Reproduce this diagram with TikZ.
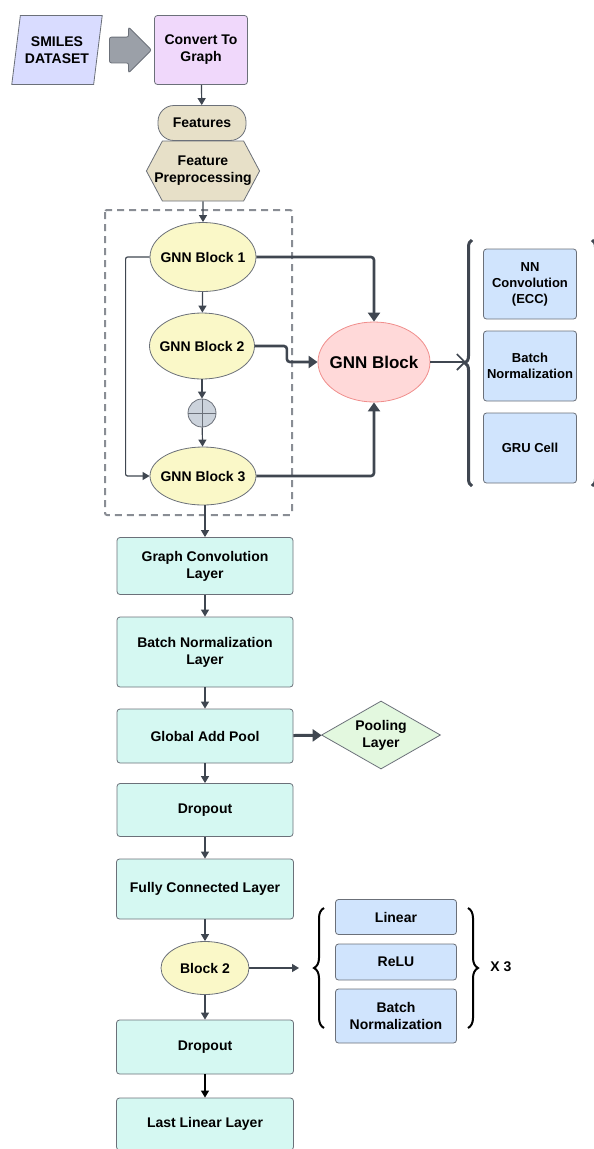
\documentclass[tikz,border=0pt]{standalone}
\usepackage{fontspec}
\setmainfont{Liberation Sans}
\usetikzlibrary{arrows.meta,shapes.geometric,shapes.symbols,shapes.arrows,decorations.pathreplacing}

\definecolor{edgeC}{HTML}{3F4650}
\definecolor{rimC}{HTML}{6B7079}
\definecolor{lavC}{HTML}{D9DCFF}
\definecolor{lilacC}{HTML}{F0D8FB}
\definecolor{sandC}{HTML}{E7E0C8}
\definecolor{lemonC}{HTML}{FAF8C8}
\definecolor{roseC}{HTML}{FFD9D9}
\definecolor{roseRim}{HTML}{F08E8C}
\definecolor{skyC}{HTML}{D0E4FD}
\definecolor{mintC}{HTML}{D5F8F2}
\definecolor{leafC}{HTML}{E3F8DF}
\definecolor{ashC}{HTML}{CCD3DC}
\definecolor{slateC}{HTML}{9BA0A8}

\tikzset{
  txt/.style={font=\fontsize{14}{17}\selectfont\bfseries, align=center, inner sep=1pt},
  base/.style={txt, draw=rimC, line width=0.8pt},
  layer/.style={base, rectangle, rounded corners=3pt, fill=mintC, minimum width=176pt},
  gnn/.style={base, ellipse, fill=lemonC, minimum width=106pt, inner xsep=-8pt, inner ysep=0pt},
  part/.style={base, rectangle, rounded corners=3pt, fill=skyC, minimum width=93pt, minimum height=70pt},
  unit/.style={base, rectangle, rounded corners=3pt, fill=skyC, minimum width=121pt},
  arr/.style={draw=edgeC, line width=1.2pt, -{Triangle[length=7pt,width=8pt]}},
  fatarr/.style={draw=edgeC, line width=2.6pt, -{Triangle[length=9pt,width=12pt]}},
  bigbrace/.style={draw=edgeC, line width=3pt, decorate, decoration={brace, amplitude=7pt}},
  smallbrace/.style={draw=black, line width=2pt, decorate, decoration={brace, amplitude=10pt}}
}

\begin{document}
\begin{tikzpicture}[x=1pt, y=-1pt]
  \useasboundingbox (0,0) rectangle (594,1149);

  % Input and graph conversion
  \node[base, trapezium, trapezium left angle=75, trapezium right angle=105,
        trapezium stretches=true, fill=lavC, minimum width=91pt, minimum height=69pt] (smiles) at (57,50) {SMILES\\DATASET};
  \node[single arrow, draw=rimC, fill=slateC, rounded corners=2pt, line width=0.8pt,
        minimum height=42pt, single arrow head extend=10pt, inner xsep=0pt, inner ysep=12.5pt] (push) at (124,50) {};
  \node[base, rectangle, rounded corners=3pt, fill=lilacC, minimum width=93pt, minimum height=69pt] (conv) at (201,50) {Convert To\\Graph};

  % Features
  \node[base, rectangle, rounded corners=16pt, fill=sandC, minimum width=88pt, minimum height=35pt] (feat) at (202,123) {Features};
  \node[base, signal, signal to=east and west, signal pointer angle=124, fill=sandC,
        inner xsep=-8pt, minimum height=60pt] (prep) at (203,171) {Feature\\Preprocessing};

  % GNN stack (dashed frame)
  \draw[rimC!80, dashed, line width=2pt, dash pattern=on 7pt off 5pt, rounded corners=2pt] (105,210) rectangle (292,515);
  \node[gnn, minimum height=69pt] (gnn1) at (203,257) {GNN Block 1};
  \node[gnn, minimum height=66pt, minimum width=105pt] (gnn2) at (202,346) {GNN Block 2};
  \node[draw=rimC, fill=ashC, circle, minimum size=28pt, inner sep=0pt, line width=0.8pt] (plus) at (202,413) {};
  \draw[rimC, line width=0.8pt] (plus.north) -- (plus.south) (plus.west) -- (plus.east);
  \node[gnn, minimum height=58pt] (gnn3) at (203,476) {GNN Block 3};

  % GNN block and its parts
  \node[base, ellipse, fill=roseC, draw=roseRim, minimum width=112pt, minimum height=80pt,
        inner xsep=-10pt, inner ysep=0pt, font=\fontsize{17}{20}\selectfont\bfseries] (gblock) at (374,362) {GNN Block};
  \node[part, font=\fontsize{13}{16}\selectfont\bfseries] (ecc) at (530,284) {NN\\Convolution\\(ECC)};
  \node[part, font=\fontsize{13}{16}\selectfont\bfseries] (gbn) at (530,366) {Batch\\Normalization};
  \node[part, font=\fontsize{13}{16}\selectfont\bfseries] (gru) at (530,448) {GRU Cell};
  \draw[bigbrace] (472,486) -- (472,240);
  \draw[bigbrace] (592,240) -- (592,486);
  \coordinate (gtip) at (466,362);

  % Layers
  \node[layer, minimum height=57pt] (gconv) at (205,566) {Graph Convolution\\Layer};
  \node[layer, minimum height=70pt] (bnorm) at (205,652) {Batch Normalization\\Layer};
  \node[layer, minimum height=54pt] (gpool) at (205,736) {Global Add Pool};
  \node[base, diamond, aspect=1.75, fill=leafC, minimum width=119pt, minimum height=68pt, inner sep=0pt] (pool) at (381,735) {Pooling\\Layer};
  \node[layer, minimum height=53pt] (drop1) at (205,810) {Dropout};
  \node[layer, minimum height=60pt, minimum width=177pt] (fc) at (205,889) {Fully Connected Layer};
  \node[gnn, minimum width=88pt, minimum height=53pt] (blk2) at (205,968) {Block 2};
  \node[layer, minimum height=54pt, minimum width=177pt] (drop2) at (205,1047) {Dropout};
  \node[layer, minimum height=52pt, minimum width=177pt] (last) at (205,1124) {Last Linear Layer};

  % Block 2 contents
  \node[unit, minimum height=35pt] (lin) at (396,917) {Linear};
  \node[unit, minimum height=36pt] (relu) at (396,962) {ReLU};
  \node[unit, minimum height=54pt] (bn2) at (396,1016) {Batch\\Normalization};
  \draw[smallbrace] (324,1028) -- (324,908);
  \draw[smallbrace] (468,908) -- (468,1028);
  \node[txt] (times) at (501,967) {X 3};
  \coordinate (btip) at (299,968);

  % Connectors
  \foreach \a/\b in {conv/feat, prep/gnn1, gnn1/gnn2, gnn2/plus, plus/gnn3,
                     gconv/bnorm, bnorm/gpool, gpool/drop1, drop1/fc, fc/blk2, blk2/drop2}
    \draw[arr] (\a) -- (\b);
  \draw[arr] (gnn3.south -| gconv) -- (gconv);
  \draw[arr, draw=black] (drop2) -- (last);
  \draw[arr, rounded corners=2pt] (gnn1.west) -- ++(-24,0) |- (gnn3.west);
  \draw[fatarr, rounded corners=3pt] (gnn1.east) -| (gblock.north);
  \draw[fatarr, rounded corners=3pt] (gnn2.east) -- ++(32,0) |- (gblock.west);
  \draw[fatarr, rounded corners=3pt] (gnn3.east) -| (gblock.south);
  \draw[edgeC, line width=1.6pt, -{Straight Barb[length=8pt,width=16pt]}] (gblock) -- (gtip);
  \draw[fatarr, line width=3pt] (gpool) -- (pool);
  \draw[arr] (blk2) -- (btip);
\end{tikzpicture}
\end{document}
